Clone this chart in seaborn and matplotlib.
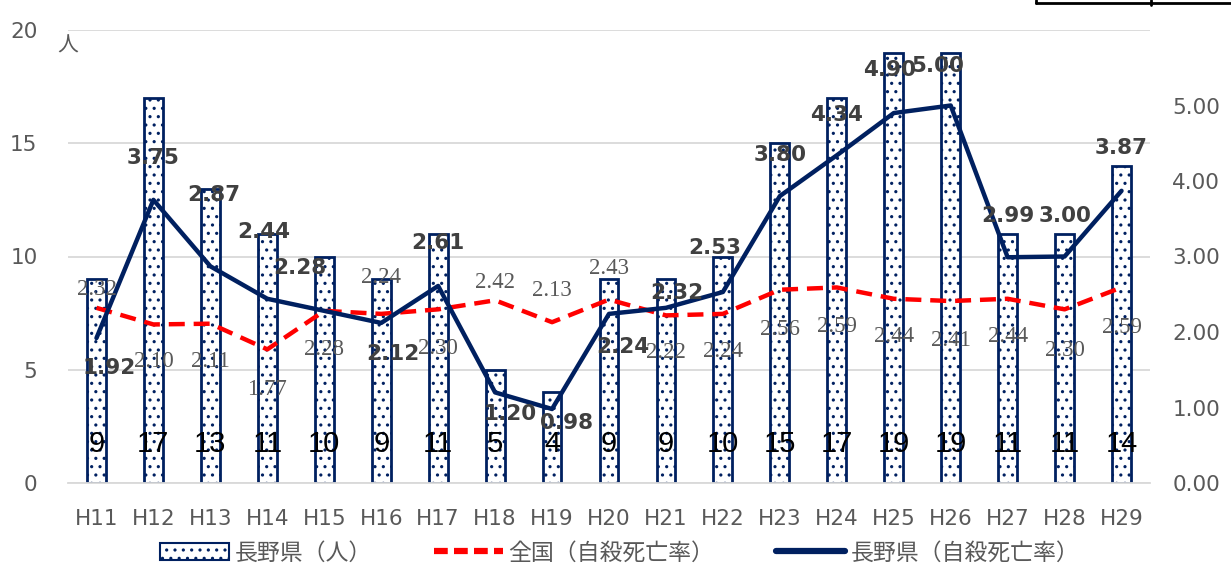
import numpy as np
import pandas as pd
import matplotlib
matplotlib.use("Agg")
import matplotlib.pyplot as plt
import seaborn as sns
from matplotlib.lines import Line2D
from matplotlib.patches import Patch

years = ["H11", "H12", "H13", "H14", "H15", "H16", "H17", "H18", "H19", "H20",
         "H21", "H22", "H23", "H24", "H25", "H26", "H27", "H28", "H29"]
nagano_people = [9, 17, 13, 11, 10, 9, 11, 5, 4, 9, 9, 10, 15, 17, 19, 19, 11, 11, 14]
nagano_rate = [1.92, 3.75, 2.87, 2.44, 2.28, 2.12, 2.61, 1.20, 0.98, 2.24,
               2.32, 2.53, 3.80, 4.34, 4.90, 5.00, 2.99, 3.00, 3.87]
national_rate = [2.32, 2.10, 2.11, 1.77, 2.28, 2.24, 2.30, 2.42, 2.13, 2.43,
                 2.22, 2.24, 2.56, 2.59, 2.44, 2.41, 2.44, 2.30, 2.59]

# label offsets in pixels (dx, dy downward positive)
nat_off = [(0, -18), (0, 37), (0, 38), (0, 40), (0, 39), (0, -36), (0, 39), (0, -18),
           (0, -32), (0, -31), (0, 37), (0, 38), (0, 40), (0, 39), (0, 38), (0, 39),
           (0, 38), (0, 41), (0, 40)]
nag_off = [(13, 30), (0, -42), (3, -71), (-4, -67), (-24, -43), (12, 31), (0, -43),
           (15, 22), (15, 14), (14, 33), (11, -15), (-8, -44), (0, -41), (0, -40),
           (-4, -43), (-13, -40), (0, -41), (0, -40), (0, -43)]

NAVY = "#002060"
RED = "#FF0000"
GREY = "#595959"
PX = 0.72  # points per pixel at dpi 100

sns.set_theme(style="white")
plt.rcParams["font.family"] = ["DejaVu Sans", "Noto Sans CJK JP"]
plt.rcParams["hatch.color"] = NAVY
plt.rcParams["hatch.linewidth"] = 1.1

fig = plt.figure(figsize=(12.31, 5.63), dpi=100)
ax = fig.add_axes([68 / 1231, 80 / 563, 1082 / 1231, 453 / 563])

df = pd.DataFrame({"year": years, "people": nagano_people})
sns.barplot(data=df, x="year", y="people", ax=ax, color="white", width=0.33,
            edgecolor=NAVY, linewidth=2, saturation=1, zorder=2)
for p in ax.patches:
    p.set_facecolor("white")
    p.set_edgecolor(NAVY)
    p.set_hatch("..")

ax.set_xlim(-0.5, len(years) - 0.5)
ax.set_ylim(0, 20)
ax.set_yticks([0, 5, 10, 15, 20])
ax.yaxis.grid(True, color="#d9d9d9", linewidth=1.3, zorder=0)
ax.set_axisbelow(True)
for s in ["top", "right", "left"]:
    ax.spines[s].set_visible(False)
ax.spines["bottom"].set_color("#d9d9d9")
ax.spines["bottom"].set_linewidth(1.3)
ax.tick_params(axis="both", length=0, labelsize=15.5, labelcolor=GREY)
ax.tick_params(axis="x", pad=19)
ax.tick_params(axis="y", pad=22)
ax.set_xlabel("")
ax.set_ylabel("")

ax.text(-0.5, 19.3, "人", fontsize=15, color=GREY, ha="center", va="center",
        family=["Noto Sans CJK JP"])

for i, v in enumerate(nagano_people):
    ax.text(i, 1.7, str(v), ha="center", va="center", fontsize=21, color="black",
            family="Liberation Sans", zorder=6)

ax2 = ax.twinx()
idx = np.arange(len(years))
sns.lineplot(x=idx, y=national_rate, ax=ax2, color=RED, linewidth=3.2, zorder=4)
ax2.lines[-1].set_dashes([3.6, 2.0])
sns.lineplot(x=idx, y=nagano_rate, ax=ax2, color=NAVY, linewidth=3.2, zorder=5)
ax2.set_ylim(0, 6)
ax2.set_yticks([0, 1, 2, 3, 4, 5])
ax2.set_yticklabels([f"{t:.2f}" for t in range(6)])
ax2.tick_params(axis="y", length=0, labelsize=15.5, labelcolor=GREY, pad=16)
for s in ax2.spines.values():
    s.set_visible(False)
ax2.set_xlim(-0.5, len(years) - 0.5)

for i, v in enumerate(national_rate):
    dx, dy = nat_off[i]
    ax2.annotate(f"{v:.2f}", (i, v), xytext=(dx * PX, -dy * PX), textcoords="offset points",
                 ha="center", va="center", fontsize=16.5, color=GREY,
                 family="Liberation Serif", zorder=7)
for i, v in enumerate(nagano_rate):
    dx, dy = nag_off[i]
    ax2.annotate(f"{v:.2f}", (i, v), xytext=(dx * PX, -dy * PX), textcoords="offset points",
                 ha="center", va="center", fontsize=15.5, color="#404040",
                 fontweight="bold", zorder=7)

handles = [Patch(facecolor="white", edgecolor=NAVY, hatch="..", linewidth=1.5),
           Line2D([], [], color=RED, linewidth=4.5, dashes=[2.2, 1.0]),
           Line2D([], [], color=NAVY, linewidth=4.5)]
labels = ["長野県（人）", "全国（自殺死亡率）", "長野県（自殺死亡率）"]
leg = fig.legend(handles, labels, loc="center", bbox_to_anchor=(620 / 1231, 10 / 563),
                 ncol=3, frameon=False, handlelength=3.0,
                 columnspacing=2.7, handletextpad=0.25,
                 prop={"family": ["Noto Sans CJK JP"], "size": 16.5})
for t in leg.get_texts():
    t.set_color(GREY)

# partial frame at top right
fig.add_artist(Line2D([1036 / 1231, 1], [1 - 3 / 563, 1 - 3 / 563], color="black", linewidth=2))
fig.add_artist(Line2D([1036 / 1231, 1036 / 1231], [1, 1 - 3 / 563], color="black", linewidth=2))
fig.add_artist(Line2D([1151 / 1231, 1151 / 1231], [1, 1 - 5 / 563], color="black", linewidth=2))

fig.savefig("out.png", dpi=100)
